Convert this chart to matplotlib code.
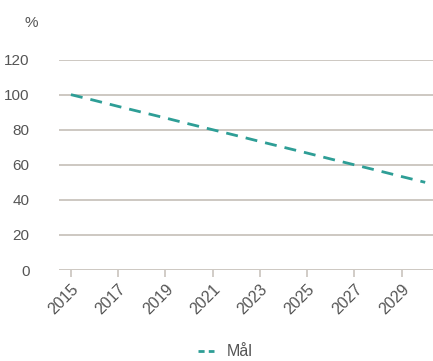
import matplotlib

matplotlib.use("Agg")
import matplotlib.pyplot as plt
from matplotlib.lines import Line2D

# target path, share of 2015 level
years = [2015, 2016, 2017, 2018, 2019, 2020, 2021, 2022,
         2023, 2024, 2025, 2026, 2027, 2028, 2029, 2030]
target = [100.0, 96.7, 93.3, 90.0, 86.7, 83.3, 80.0, 76.7,
          73.3, 70.0, 66.7, 63.3, 60.0, 56.7, 53.3, 50.0]
tick_years = [2015, 2017, 2019, 2021, 2023, 2025, 2027, 2029]
y_ticks = [0, 20, 40, 60, 80, 100, 120]
series_label = "Mål"

TEAL = "#2E9E96"
GRID = "#C9C4BD"
TEXT = "#555555"

plt.rcParams["font.family"] = ["Liberation Sans", "DejaVu Sans"]

fig = plt.figure(figsize=(4.33, 3.61), dpi=100)
ax = fig.add_axes([0.136, 0.252, 0.864, 0.583])

ax.plot(years, target, color=TEAL, lw=2.0, ls=(0, (4.3, 2.9)))

ax.set_xlim(2014.49, 2030.33)
ax.set_ylim(0, 120)
ax.set_yticks(y_ticks)
ax.set_xticks(tick_years)
ax.set_xticklabels([str(y) for y in tick_years], rotation=45,
                   ha="right", va="top", rotation_mode="anchor")
ax.grid(axis="y", color=GRID, lw=1.3)
ax.set_axisbelow(True)
for s in ax.spines.values():
    s.set_visible(False)
ax.tick_params(axis="y", length=0, pad=21, labelsize=11, labelcolor=TEXT)
ax.tick_params(axis="x", length=5, width=1.2, color=GRID, pad=3,
               labelsize=11.5, labelcolor=TEXT)

fig.text(38 / 433, 1 - 23 / 361, "%", ha="right", va="center",
         fontsize=11, color=TEXT)

# legend key uses a tighter dash so two dashes fit
handle = Line2D([], [], color=TEAL, lw=2.0, ls=(0, (2.2, 1.5)))
fig.legend([handle], [series_label], loc="center",
           bbox_to_anchor=(225 / 433, 1 - 352 / 361),
           frameon=False, fontsize=11.5, labelcolor=TEXT, handlelength=1.0,
           handletextpad=0.8)

fig.savefig("out.png", dpi=100)
